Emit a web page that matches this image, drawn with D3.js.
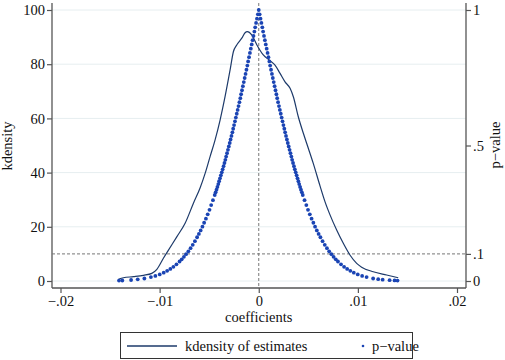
<!DOCTYPE html>
<html>
<head>
<meta charset="utf-8">
<script src="https://cdn.jsdelivr.net/npm/d3@7"></script>
<style>
  body { margin: 0; background: #fff; }
</style>
</head>
<body>
<div id="chart"></div>
<script>
"use strict"

/* canvas size */
let svgWidth = 505;
let svgHeight = 360;

/* plot region */
let plotLeft = 52
let plotRight = 466
let plotTop = 3
let plotBottom = 288

/* data */
let xTicks = [-0.02, -0.01, 0, 0.01, 0.02];
let xTickLabels = ["\u2212.02", "\u2212.01", "0", ".01", ".02"];
let yTicks = [0, 20, 40, 60, 80, 100];
let pTicks = [0, 0.1, 0.5, 1];
let pTickLabels = ["0", ".1", ".5", "1"];
let pCutoff = 0.1;

// kernel density of the estimates
let kdX = [-0.01415, -0.01365, -0.01264, -0.01163, -0.01079, -0.01028, -0.00962, -0.00911, -0.00827, -0.00743,
    -0.00659, -0.00592, -0.00541, -0.00491, -0.00441, -0.0039, -0.0034, -0.00289, -0.00256, -0.00222,
    -0.00171, -0.00138, -0.00115, -0.00071, -0.0002, 0.00046, 0.00114, 0.00164, 0.00215, 0.00265,
    0.00316, 0.00349, 0.00399, 0.0045, 0.005, 0.0055, 0.00618, 0.00668, 0.00719, 0.00786,
    0.00853, 0.0092, 0.00988, 0.01038, 0.01155, 0.0129, 0.01407];
let kdY = [0.6, 1.2, 1.6, 2.1, 2.8, 4.3, 8.4, 11.4, 16.3, 21.3,
    28.7, 34.3, 39.7, 45.9, 52.0, 59.4, 68.0, 77.9, 84.6, 87.1,
    89.6, 91.6, 92.0, 90.8, 87.2, 83.4, 81.3, 79.7, 76.6, 73.5,
    71.1, 68.0, 60.6, 54.5, 49.0, 43.4, 35.1, 29.3, 24.4, 18.8,
    13.9, 9.6, 6.5, 5.1, 3.4, 2.2, 1.2];

// p-value of each estimate: [coefficient, p]
let pvalPoints = [
    [-0.01410, 0.0015], [-0.01376, 0.0019], [-0.01288, 0.0037], [-0.01221, 0.0060], [-0.01154, 0.0093],
    [-0.01088, 0.0143], [-0.01043, 0.0188], [-0.00999, 0.0244], [-0.00959, 0.0308], [-0.00924, 0.0375],
    [-0.00892, 0.0444], [-0.00861, 0.0524], [-0.00830, 0.0615], [-0.00799, 0.0719], [-0.00777, 0.0801],
    [-0.00755, 0.0891], [-0.00733, 0.0989], [-0.00710, 0.1096], [-0.00688, 0.1211], [-0.00666, 0.1336],
    [-0.00644, 0.1471], [-0.00622, 0.1615], [-0.00604, 0.1738], [-0.00586, 0.1868], [-0.00568, 0.2005],
    [-0.00551, 0.2150], [-0.00533, 0.2301], [-0.00515, 0.2460], [-0.00497, 0.2627], [-0.00480, 0.2801],
    [-0.00462, 0.2983], [-0.00444, 0.3173], [-0.00435, 0.3271], [-0.00426, 0.3371], [-0.00417, 0.3472],
    [-0.00408, 0.3576], [-0.00400, 0.3681], [-0.00391, 0.3789], [-0.00382, 0.3898], [-0.00373, 0.4009],
    [-0.00364, 0.4122], [-0.00355, 0.4237], [-0.00346, 0.4354], [-0.00337, 0.4473], [-0.00329, 0.4593],
    [-0.00320, 0.4715], [-0.00311, 0.4839], [-0.00302, 0.4965], [-0.00293, 0.5093], [-0.00284, 0.5222],
    [-0.00275, 0.5353], [-0.00266, 0.5485], [-0.00258, 0.5619], [-0.00249, 0.5755], [-0.00240, 0.5892],
    [-0.00231, 0.6031], [-0.00222, 0.6171], [-0.00213, 0.6312], [-0.00204, 0.6455], [-0.00195, 0.6599],
    [-0.00186, 0.6745], [-0.00178, 0.6892], [-0.00169, 0.7039], [-0.00160, 0.7188], [-0.00151, 0.7339],
    [-0.00142, 0.7490], [-0.00133, 0.7642], [-0.00124, 0.7795], [-0.00115, 0.7949], [-0.00107, 0.8103],
    [-0.00098, 0.8259], [-0.00089, 0.8415], [-0.00080, 0.8572], [-0.00071, 0.8729], [-0.00062, 0.8887],
    [-0.00053, 0.9045], [-0.00044, 0.9203], [-0.00036, 0.9362], [-0.00027, 0.9522], [-0.00018, 0.9681],
    [-0.00009, 0.9840], [0, 1],
    [0.00009, 0.9840], [0.00018, 0.9681], [0.00027, 0.9522], [0.00036, 0.9362], [0.00044, 0.9203],
    [0.00053, 0.9045], [0.00062, 0.8887], [0.00071, 0.8729], [0.00080, 0.8572], [0.00089, 0.8415],
    [0.00098, 0.8259], [0.00107, 0.8103], [0.00115, 0.7949], [0.00124, 0.7795], [0.00133, 0.7642],
    [0.00142, 0.7490], [0.00151, 0.7339], [0.00160, 0.7188], [0.00169, 0.7039], [0.00178, 0.6892],
    [0.00186, 0.6745], [0.00195, 0.6599], [0.00204, 0.6455], [0.00213, 0.6312], [0.00222, 0.6171],
    [0.00231, 0.6031], [0.00240, 0.5892], [0.00249, 0.5755], [0.00258, 0.5619], [0.00266, 0.5485],
    [0.00275, 0.5353], [0.00284, 0.5222], [0.00293, 0.5093], [0.00302, 0.4965], [0.00311, 0.4839],
    [0.00320, 0.4715], [0.00329, 0.4593], [0.00337, 0.4473], [0.00346, 0.4354], [0.00355, 0.4237],
    [0.00364, 0.4122], [0.00373, 0.4009], [0.00382, 0.3898], [0.00391, 0.3789], [0.00400, 0.3681],
    [0.00408, 0.3576], [0.00417, 0.3472], [0.00426, 0.3371], [0.00435, 0.3271], [0.00444, 0.3173],
    [0.00462, 0.2983], [0.00480, 0.2801], [0.00497, 0.2627], [0.00515, 0.2460], [0.00533, 0.2301],
    [0.00551, 0.2150], [0.00568, 0.2005], [0.00586, 0.1868], [0.00604, 0.1738], [0.00622, 0.1615],
    [0.00644, 0.1471], [0.00666, 0.1336], [0.00688, 0.1211], [0.00710, 0.1096], [0.00733, 0.0989],
    [0.00755, 0.0891], [0.00777, 0.0801], [0.00799, 0.0719], [0.00830, 0.0615], [0.00861, 0.0524],
    [0.00892, 0.0444], [0.00924, 0.0375], [0.00959, 0.0308], [0.00999, 0.0244], [0.01043, 0.0188],
    [0.01088, 0.0143], [0.01154, 0.0093], [0.01205, 0.0066], [0.01250, 0.0050], [0.01320, 0.0030],
    [0.01370, 0.0020], [0.01400, 0.0016]
];

let navy = "#1d3a6a";
let blue = "#1a44b4";
let gridColor = "#e6eef0";
let axisColor = "#555";

let svg = d3.select("#chart")
    .append("svg")
    .attr("width", svgWidth)
    .attr("height", svgHeight);

/* scales */
let xScale = d3.scaleLinear()
    .domain([-0.02, 0.02])
    .range([60.5, 457]);

let yScale = d3.scaleLinear()
    .domain([0, 100])
    .range([281, 10]);

let pScale = d3.scaleLinear()
    .domain([0, 1])
    .range([281, 10]);

/* grid lines */
svg.selectAll(".grid")
    .data(yTicks)
    .join("line")
    .attr("x1", plotLeft)
    .attr("x2", plotRight)
    .attr("y1", d => yScale(d))
    .attr("y2", d => yScale(d))
    .attr("stroke", gridColor)
    .attr("stroke-width", 1);

/* left axis */
let leftAxis = svg.append("g")
    .attr("transform", "translate(" + plotLeft + ",0)")
    .call(d3.axisLeft(yScale).tickValues(yTicks).tickSize(5).tickPadding(2).tickFormat(d3.format("d")));

/* right axis (p-value) */
let rightAxis = svg.append("g")
    .attr("transform", "translate(" + plotRight + ",0)")
    .call(d3.axisRight(pScale).tickValues(pTicks).tickSize(5).tickPadding(2)
        .tickFormat((d, i) => pTickLabels[i]));

/* bottom axis */
let bottomAxis = svg.append("g")
    .attr("transform", "translate(0," + plotBottom + ")")
    .call(d3.axisBottom(xScale).tickValues(xTicks).tickSize(5).tickPadding(3)
        .tickFormat((d, i) => xTickLabels[i]));

[leftAxis, rightAxis, bottomAxis].forEach(function (ax) {
    ax.select(".domain").remove();
    ax.selectAll(".tick line").attr("stroke", axisColor).attr("stroke-width", 1.2);
});

/* axis lines */
svg.append("line")
    .attr("x1", plotLeft).attr("x2", plotLeft)
    .attr("y1", plotTop).attr("y2", plotBottom)
    .attr("stroke", axisColor).attr("stroke-width", 1.3);

svg.append("line")
    .attr("x1", plotRight).attr("x2", plotRight)
    .attr("y1", plotTop).attr("y2", plotBottom)
    .attr("stroke", axisColor).attr("stroke-width", 1.3);

svg.append("line")
    .attr("x1", plotLeft).attr("x2", plotRight)
    .attr("y1", plotBottom).attr("y2", plotBottom)
    .attr("stroke", axisColor).attr("stroke-width", 1.3);

/* reference lines: p = .1 and coefficient = 0 */
svg.append("line")
    .attr("x1", plotLeft).attr("x2", plotRight)
    .attr("y1", pScale(pCutoff)).attr("y2", pScale(pCutoff))
    .attr("stroke", "#777").attr("stroke-width", 1)
    .attr("stroke-dasharray", "3,2");

svg.append("line")
    .attr("x1", xScale(0)).attr("x2", xScale(0))
    .attr("y1", plotTop).attr("y2", plotBottom)
    .attr("stroke", "#777").attr("stroke-width", 1)
    .attr("stroke-dasharray", "3,2");

/* kdensity curve */
let kdLine = d3.line()
    .x((d, i) => xScale(kdX[i]))
    .y(d => yScale(d))
    .curve(d3.curveMonotoneX);

svg.append("path")
    .attr("d", kdLine(kdY))
    .attr("fill", "none")
    .attr("stroke", navy)
    .attr("stroke-width", 1.2);

/* p-value scatter */
svg.selectAll(".pdot")
    .data(pvalPoints)
    .join("circle")
    .attr("cx", d => xScale(d[0]))
    .attr("cy", d => pScale(d[1]))
    .attr("r", 1.9)
    .attr("fill", blue);

/* axis titles */
svg.append("text")
    .attr("x", xScale(0))
    .attr("y", 322)
    .attr("text-anchor", "middle")
    .text("coefficients");

svg.append("text")
    .attr("transform", "translate(12,146) rotate(-90)")
    .attr("text-anchor", "middle")
    .text("kdensity");

svg.append("text")
    .attr("transform", "translate(500,145) rotate(-90)")
    .attr("text-anchor", "middle")
    .text("p\u2212value");

/* legend */
svg.append("rect")
    .attr("x", 120.5)
    .attr("y", 332.5)
    .attr("width", 292)
    .attr("height", 26)
    .attr("fill", "none")
    .attr("stroke", "#333")
    .attr("stroke-width", 1);

svg.append("line")
    .attr("x1", 127).attr("x2", 177)
    .attr("y1", 346).attr("y2", 346)
    .attr("stroke", navy).attr("stroke-width", 1.4);

svg.append("text")
    .attr("x", 185)
    .attr("y", 351)
    .text("kdensity of estimates");

svg.append("circle")
    .attr("cx", 363).attr("cy", 346)
    .attr("r", 1.3)
    .attr("fill", blue);

svg.append("text")
    .attr("x", 372)
    .attr("y", 351)
    .text("p\u2212value");

/* one font for every label, like the Stata graph */
svg.selectAll("text")
    .style("font-family", "'Liberation Serif'")
    .style("font-size", "14.5px")
    .style("fill", "#111");
</script>
</body>
</html>
